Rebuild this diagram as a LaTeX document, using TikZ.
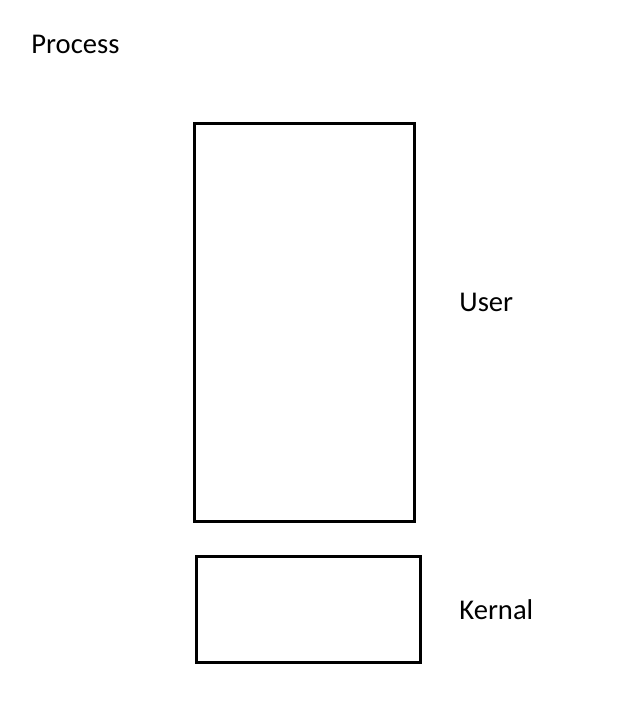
\documentclass[tikz,border=0pt]{standalone}
\usepackage{fontspec}
\setmainfont{Carlito}
\usetikzlibrary{positioning}

\begin{document}
\begin{tikzpicture}[x=0.5pt,y=-0.5pt,font=\fontsize{14.3}{17}\selectfont]
  \useasboundingbox (0,0) rectangle (630,728);
  \node[anchor=west,inner sep=0pt] (process) at (31,44) {Process};
  \node[draw,line width=1.5pt,minimum width=110pt,minimum height=199pt,inner sep=0pt] (user) at (304,322) {};
  \node[draw,line width=1.5pt,minimum width=112pt,minimum height=53pt,inner sep=0pt] (kernal) at (308,609) {};
  \node[anchor=west,inner sep=0pt] (userlbl) at (459,302) {User};
  \node[anchor=west,inner sep=0pt] (kernallbl) at (459,610) {Kernal};
\end{tikzpicture}
\end{document}
